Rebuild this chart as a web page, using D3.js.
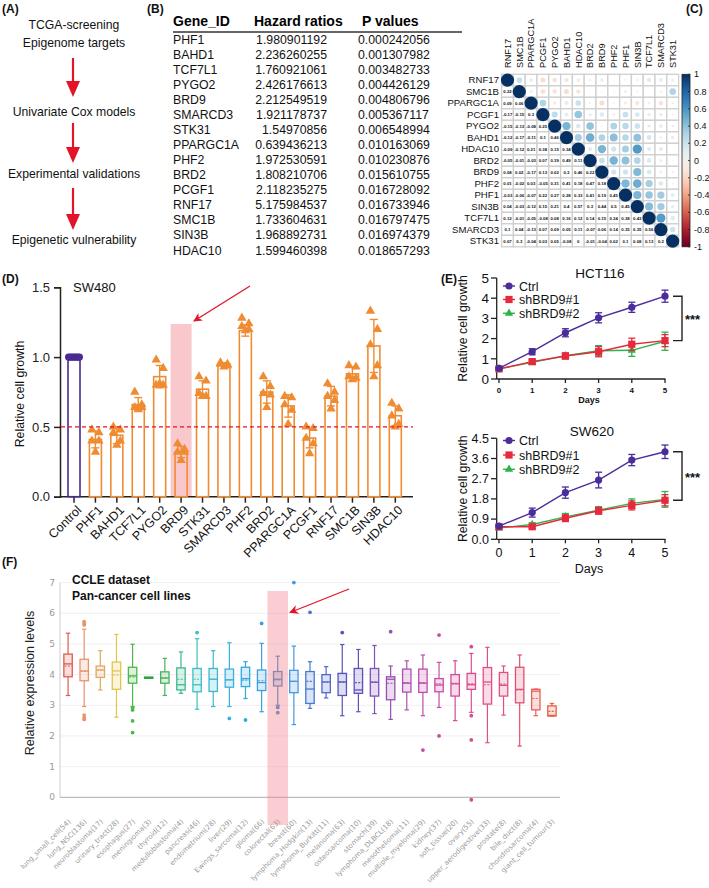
<!DOCTYPE html>
<html><head><meta charset="utf-8">
<script src="https://cdn.jsdelivr.net/npm/d3@7"></script>
<style>body{margin:0;background:#fff}svg{font-family:"Liberation Sans",Arial,sans-serif}</style>
</head><body>
<svg id="c" width="709" height="888"></svg>
<script>
// ================= DATA =================
// Panel A
const flowSteps = [["TCGA-screening","Epigenome targets"],["Univariate Cox models"],["Experimental validations"],["Epigenetic vulnerability"]];
// Panel B
const tableHeaders = ["Gene_ID","Hazard ratios","P values"];
const geneIds = ["PHF1","BAHD1","TCF7L1","PYGO2","BRD9","SMARCD3","STK31","PPARGC1A","PHF2","BRD2","PCGF1","RNF17","SMC1B","SIN3B","HDAC10"];
const hazardRatios = ["1.980901192","2.236260255","1.760921061","2.426176613","2.212549519","1.921178737","1.54970856","0.639436213","1.972530591","1.808210706","2.118235275","5.175984537","1.733604631","1.968892731","1.599460398"];
const pValues = ["0.000242056","0.001307982","0.003482733","0.004426129","0.004806796","0.005367117","0.006548994","0.010163069","0.010230876","0.015610755","0.016728092","0.016733946","0.016797475","0.016974379","0.018657293"];
// Panel C
const corrGenes = ["RNF17","SMC1B","PPARGC1A","PCGF1","PYGO2","BAHD1","HDAC10","BRD2","BRD9","PHF2","PHF1","SIN3B","TCF7L1","SMARCD3","STK31"];
const corrLower = [
 [],
 [0.22],
 [0.09,0.06],
 [-0.17,-0.15,0.3],
 [-0.15,-0.13,-0.08,0.25],
 [-0.12,-0.17,-0.11,0.1,0.46],
 [-0.09,-0.12,0.21,0.38,0.15,0.34],
 [-0.05,-0.01,-0.03,0.07,0.39,0.49,0.11],
 [0.08,0.02,-0.17,0.13,0.02,0.3,0.46,0.22],
 [0.01,-0.02,0.03,-0.05,0.31,0.41,0.18,0.47,0.18],
 [-0.03,-0.06,-0.07,0.22,0.27,0.28,0.33,0.41,0.19,0.45],
 [0.04,-0.03,-0.12,0.15,0.21,0.4,0.57,0.3,0.44,0.5,0.45],
 [0.12,-0.01,-0.05,-0.08,0.08,0.16,0.12,0.14,0.15,0.34,0.38,0.43],
 [0.1,0.04,-0.13,0.07,0.09,0.05,0.11,-0.07,0.06,0.14,0.35,0.35,0.56],
 [0.07,0.3,-0.04,0.03,0.05,-0.08,0,-0.01,-0.04,0.02,0.1,0.08,0.13,0.2]
];
const colorbarTicks = [1,0.8,0.6,0.4,0.2,0,-0.2,-0.4,-0.6,-0.8,-1];
// Panel D
const growthCategories = ["Control","PHF1","BAHD1","TCF7L1","PYGO2","BRD9","STK31","SMARCD3","PHF2","BRD2","PPARGC1A","PCGF1","RNF17","SMC1B","SIN3B","HDAC10"];
const growthMeans = [1.0,0.41,0.44,0.66,0.86,0.32,0.77,0.95,1.19,0.75,0.65,0.42,0.72,0.88,1.08,0.58];
const growthSD = [0.01,0.06,0.06,0.05,0.08,0.04,0.06,0.01,0.04,0.08,0.08,0.07,0.07,0.05,0.19,0.07];
const growthPoints = [
 [1,1,1,1,1,1,1],
 [0.48,0.46,0.40,0.40,0.32],
 [0.50,0.48,0.46,0.40,0.37],
 [0.75,0.66,0.64,0.64,0.63],
 [0.98,0.92,0.80,0.80,0.81],
 [0.38,0.34,0.32,0.32,0.26],
 [0.86,0.83,0.74,0.72,0.72],
 [0.96,0.95,0.95,0.94,0.93],
 [1.28,1.24,1.22,1.20,1.19],
 [0.86,0.79,0.74,0.73,0.64],
 [0.72,0.71,0.66,0.62,0.52],
 [0.50,0.49,0.42,0.38,0.31],
 [0.81,0.75,0.72,0.69,0.63],
 [0.94,0.93,0.86,0.85,0.84],
 [1.33,1.20,1.09,0.94,0.86],
 [0.67,0.63,0.58,0.52,0.50]
];
const growthYTicks = [0,0.5,1.0,1.5];
const growthThreshold = 0.5;
// Panel E
const days = [0,1,2,3,4,5];
const seriesNames = ["Ctrl","shBRD9#1","shBRD9#2"];
const hctValues = [[0.53,1.35,2.29,3.03,3.55,4.1],[0.5,0.86,1.14,1.35,1.72,1.9],[0.5,0.82,1.15,1.4,1.42,1.87]];
const hctErrors = [[0.05,0.15,0.2,0.25,0.25,0.3],[0.05,0.1,0.15,0.25,0.3,0.3],[0.05,0.1,0.1,0.25,0.3,0.45]];
const swValues = [[0.59,1.19,2.08,2.64,3.53,3.9],[0.56,0.56,0.94,1.27,1.51,1.74],[0.5,0.66,1.0,1.3,1.6,1.78]];
const swErrors = [[0.05,0.2,0.25,0.35,0.25,0.3],[0.05,0.08,0.15,0.15,0.2,0.25],[0.05,0.08,0.15,0.15,0.2,0.35]];
const hctYTicks = [0,1,2,3,4,5];
const swYTicks = [0,0.9,1.8,2.7,3.6,4.5];
// Panel F
const cancerTypes = ["lung_small_cell(54)","lung_NSC(136)","neuroblastoma(17)","urinary_tract(28)","esophagus(27)","meningioma(3)","thyroid(12)","medulloblastoma(4)","pancreas(46)","endometrium(28)","liver(29)","Ewings_sarcoma(12)","glioma(66)","colorectal(63)","breast(60)","lymphoma_Hodgkin(13)","lymphoma_Burkitt(11)","melanoma(63)","osteosarcoma(10)","stomach(39)","lymphoma_DLBCL(18)","mesothelioma(11)","multiple_myeloma(29)","kidney(37)","soft_tissue(20)","ovary(55)","upper_aerodigestive(33)","prostate(8)","bile_duct(8)","chondrosarcoma(4)","giant_cell_tumour(3)"];
const whiskerHigh = [5.35,5.48,4.78,5.31,4.99,3.9,4.53,4.74,5.17,4.78,5.04,4.42,5.02,4.6,4.93,4.42,4.26,4.98,4.82,4.95,4.28,4.45,4.64,4.4,4.45,4.69,4.89,4.28,4.64,3.53,3.06];
const q3 = [4.67,4.50,4.28,4.41,4.24,3.92,4.09,4.22,4.2,4.2,4.18,4.24,4.15,4.1,4.14,4.1,4.0,4.04,4.2,4.2,3.93,4.18,4.18,3.87,4.0,4.04,4.23,4.07,4.24,3.52,2.98];
const medians = [4.35,4.12,4.15,4.12,3.96,3.9,3.89,3.67,3.67,3.85,3.83,3.87,3.74,3.85,3.78,3.53,3.76,3.76,3.5,3.75,3.85,3.72,3.72,3.66,3.7,3.67,3.76,3.65,3.52,3.46,2.67];
const q1 = [3.93,3.80,3.91,3.52,3.72,3.88,3.72,3.5,3.44,3.45,3.59,3.61,3.48,3.63,3.41,3.06,3.41,3.32,3.39,3.3,3.18,3.43,3.42,3.44,3.3,3.52,3.04,3.3,3.08,2.85,2.65];
const whiskerLow = [3.32,2.96,3.5,2.61,2.96,3.88,3.32,3.39,2.87,2.96,2.96,3.22,2.79,3.0,2.37,2.9,3.24,2.66,2.79,2.73,2.54,2.85,2.66,2.93,2.5,2.77,1.78,2.68,1.67,2.66,2.65];
const means = [4.28,4.1,4.15,3.99,3.92,3.9,3.89,3.85,3.85,3.85,3.83,3.82,3.8,3.83,3.78,3.78,3.76,3.76,3.74,3.76,3.72,3.74,3.74,3.7,3.72,3.7,3.67,3.69,3.5,3.22,2.8];
const outliers = [[],[5.73,5.67,5.62,2.68,2.6,2.54],[],[],[2.92,2.85,2.49,2.11],[],[],[],[5.37],[],[2.57],[2.52],[5.67],[2.93,2.76],[7.0],[6.03],[],[5.37],[],[],[5.4],[],[1.54],[5.29,2.0],[],[4.91,2.66,1.87,-0.08],[],[],[],[],[]];
const boxColors = ["#e05a50","#e8946a","#e0a860","#e0c64c","#4cb848","#2fa243","#48b060","#3cb890","#3cc0c0","#3cb8cc","#38b0e0","#30a8e0","#3aa0e2","#4a88c8","#4898e0","#4878d0","#5068c8","#5454bc","#6250b8","#7e50b8","#9850b0","#b050b0","#c04ca8","#c84ca0","#d04c98","#d84c90","#e05088","#e05080","#e05070","#e86058","#e86048"];
const exprYTicks = [0,1,2,3,4,5,6,7];

// ================= DRAW =================
const svg = d3.select("#c");
const RED = "#e3142a";
svg.append("defs").html(`
 <marker id="ah" viewBox="0 0 10 10" refX="9" refY="5" markerWidth="9" markerHeight="9" markerUnits="userSpaceOnUse" orient="auto">
  <path d="M0,0 L10,5 L0,10 L3,5 Z" fill="${RED}"/></marker>`);

function plabel(t,x,y){svg.append("text").attr("x",x).attr("y",y).attr("font-weight","bold").attr("font-size",12).attr("fill","#111").text(t);}
plabel("(A)",2,13); plabel("(B)",147,13); plabel("(C)",686,13); plabel("(D)",2,283); plabel("(E)",441,283); plabel("(F)",2,566);

// ---- Panel A ----
(function(){
  const gA = svg.append("g");
  const baselines = [[29,47],[116],[178],[244]];
  flowSteps.forEach((lines,i)=>{
    lines.forEach((t,j)=>gA.append("text").attr("x",74).attr("y",baselines[i][j]).attr("text-anchor","middle").attr("font-size",12.2).attr("fill","#111").text(t));
  });
  const arrows = [[58,97],[123,163],[188,230]];
  arrows.forEach(([a,b])=>{
    gA.append("line").attr("x1",73).attr("x2",73).attr("y1",a).attr("y2",b-12).attr("stroke",RED).attr("stroke-width",2.2);
    gA.append("path").attr("d",`M${66},${b-16} L${80},${b-16} L73,${b} Z`).attr("fill",RED);
  });
})();

// ---- Panel B ----
(function(){
  const g = svg.append("g");
  g.append("text").attr("x",173).attr("y",26).attr("font-weight","bold").attr("font-size",14).text(tableHeaders[0]);
  g.append("text").attr("x",254).attr("y",26).attr("font-weight","bold").attr("font-size",14).text(tableHeaders[1]);
  g.append("text").attr("x",362).attr("y",26).attr("font-weight","bold").attr("font-size",14).text(tableHeaders[2]);
  g.append("line").attr("x1",173).attr("x2",462).attr("y1",32).attr("y2",32).attr("stroke","#666").attr("stroke-width",2);
  const row = d3.scaleLinear().domain([0,geneIds.length-1]).range([43.5,254.5]);
  geneIds.forEach((gname,i)=>{
    g.append("text").attr("x",173).attr("y",row(i)).attr("font-size",12.3).attr("fill","#111").text(gname);
    g.append("text").attr("x",327).attr("y",row(i)).attr("font-size",12.3).attr("text-anchor","end").attr("fill","#111").text(hazardRatios[i]);
    g.append("text").attr("x",358).attr("y",row(i)).attr("font-size",12.3).attr("fill","#111").text(pValues[i]);
  });
})();

// ---- Panel C ----
(function(){
  const g = svg.append("g");
  const x = d3.scaleBand().domain(corrGenes).range([501.6,678.6]);
  const y = d3.scaleBand().domain(corrGenes).range([74.3,246.8]);
  const cw = x.bandwidth(), ch = y.bandwidth();
  const col = v => d3.interpolateRdBu((v+1)/2);
  const val = (i,j) => i===j?1:(i>j?corrLower[i][j]:corrLower[j][i]);
  corrGenes.forEach((ri,i)=>corrGenes.forEach((cj,j)=>{
    g.append("rect").attr("x",x(cj)).attr("y",y(ri)).attr("width",cw).attr("height",ch).attr("fill","#fff").attr("stroke","#cfcfcf").attr("stroke-width",1.3);
  }));
  corrGenes.forEach((ri,i)=>corrGenes.forEach((cj,j)=>{
    const v = val(i,j);
    const cx = x(cj)+cw/2, cy = y(ri)+ch/2;
    if (j>=i){
      g.append("circle").attr("cx",cx).attr("cy",cy).attr("r",Math.sqrt(Math.abs(v))*cw*(i===j?0.56:0.52)).attr("fill",col(v));
    } else {
      g.append("text").attr("x",cx).attr("y",cy+1.5).attr("text-anchor","middle").attr("font-size",4.3).attr("font-weight","bold").attr("fill","#111").text(String(v));
    }
  }));
  corrGenes.forEach(gn=>{
    g.append("text").attr("x",499).attr("y",y(gn)+ch/2+3.3).attr("text-anchor","end").attr("font-size",9.6).attr("fill","#111").text(gn);
    g.append("text").attr("transform",`translate(${x(gn)+cw/2+3.3},68) rotate(-90)`).attr("font-size",9.2).attr("fill","#111").text(gn);
  });
  // colorbar
  const cy = d3.scaleLinear().domain([-1,1]).range([246.8,74.3]);
  const grad = svg.select("defs").append("linearGradient").attr("id","cbar").attr("x1",0).attr("x2",0).attr("y1",1).attr("y2",0);
  d3.range(0,1.0001,0.05).forEach(t=>grad.append("stop").attr("offset",t).attr("stop-color",d3.interpolateRdBu(t)));
  g.append("rect").attr("x",682).attr("y",cy(1)).attr("width",8).attr("height",cy(-1)-cy(1)).attr("fill","url(#cbar)").attr("stroke","#222").attr("stroke-width",0.8);
  colorbarTicks.forEach(t=>{
    g.append("line").attr("x1",688).attr("x2",690).attr("y1",cy(t)).attr("y2",cy(t)).attr("stroke","#222").attr("stroke-width",0.8);
    g.append("text").attr("x",694).attr("y",cy(t)+3).attr("font-size",9).attr("fill","#111").text(String(t));
  });
})();

// ---- Panel D ----
(function(){
  const g = svg.append("g");
  const x = d3.scalePoint().domain(growthCategories).range([74,395.3]);
  const y = d3.scaleLinear().domain([0,1.5]).range([496.7,287.3]);
  const ORANGE = "#ef8c32", PURPLE = "#4b2a92";
  g.append("rect").attr("x",x("BRD9")-10.5).attr("y",324).attr("width",21).attr("height",y(0)-324).attr("fill","#f8c8cd");
  const ya = d3.axisLeft(y).tickValues(growthYTicks).tickFormat(d3.format(".1f")).tickSize(6);
  g.append("g").attr("transform","translate(60,0)").call(ya).call(s=>{s.select(".domain").attr("stroke","#222").attr("stroke-width",1.5);s.selectAll(".tick line").attr("stroke","#222").attr("stroke-width",1.5);s.selectAll("text").attr("font-size",13).attr("font-family","Liberation Sans").attr("fill","#222").attr("dx",-1);});
  g.append("line").attr("x1",60).attr("x2",413).attr("y1",y(0)).attr("y2",y(0)).attr("stroke","#222").attr("stroke-width",1.5);
  growthCategories.forEach((c,i)=>{
    g.append("line").attr("x1",x(c)).attr("x2",x(c)).attr("y1",y(0)).attr("y2",y(0)+6).attr("stroke","#222").attr("stroke-width",1.5);
    g.append("text").attr("transform",`translate(${x(c)+5},${y(0)+11}) rotate(-45)`).attr("text-anchor","end").attr("font-size",12.5).attr("fill","#111").attr("dy","0.35em").text(c);
  });
  g.append("text").attr("transform","translate(24,394) rotate(-90)").attr("text-anchor","middle").attr("font-size",12.3).attr("fill","#111").text("Relative cell growth");
  g.append("text").attr("x",73).attr("y",291.5).attr("font-size",13).attr("fill","#111").text("SW480");
  growthCategories.forEach((c,i)=>{
    const clr = i===0?PURPLE:ORANGE;
    g.append("rect").attr("x",x(c)-6).attr("y",y(growthMeans[i])).attr("width",12).attr("height",y(0)-y(growthMeans[i])).attr("fill","none").attr("stroke",clr).attr("stroke-width",1.6);
  });
  const offs = [-3.5,3.5,-3.5,3.5,0,-5,5];
  const tri = d3.symbol().type(d3.symbolTriangle).size(38);
  growthCategories.forEach((c,i)=>{
    growthPoints[i].forEach((v,k)=>{
      if(i===0){
        g.append("circle").attr("cx",x(c)+ (k-3)*1.8).attr("cy",y(v)).attr("r",3.6).attr("fill",PURPLE);
      } else {
        g.append("path").attr("d",tri).attr("transform",`translate(${x(c)+offs[k]},${y(v)})`).attr("fill",ORANGE);
      }
    });
  });
  growthCategories.forEach((c,i)=>{
    const clr = i===0?PURPLE:ORANGE;
    const lo = y(growthMeans[i]-growthSD[i]), hi = y(growthMeans[i]+growthSD[i]);
    g.append("line").attr("x1",x(c)).attr("x2",x(c)).attr("y1",lo).attr("y2",hi).attr("stroke",clr).attr("stroke-width",1.4);
    [lo,hi].forEach(yy=>g.append("line").attr("x1",x(c)-4).attr("x2",x(c)+4).attr("y1",yy).attr("y2",yy).attr("stroke",clr).attr("stroke-width",1.4));
  });
  g.append("line").attr("x1",61).attr("x2",413).attr("y1",y(growthThreshold)).attr("y2",y(growthThreshold)).attr("stroke",RED).attr("stroke-width",1.3).attr("stroke-dasharray","4,3");
  g.append("line").attr("x1",250).attr("y1",286).attr("x2",194).attr("y2",321).attr("stroke",RED).attr("stroke-width",1.3).attr("marker-end","url(#ah)");
})();

// ---- Panel E ----
const E_COLORS = ["#4b2c9b","#e8283c","#2db34a"];
function growthCurve(cfg){
  const g = svg.append("g");
  const x = d3.scaleLinear().domain([0,5]).range([499,665]);
  const y = d3.scaleLinear().domain([0,cfg.ymax]).range(cfg.yr);
  g.append("line").attr("x1",496.7).attr("x2",496.7).attr("y1",y(cfg.ymax)).attr("y2",y(0)).attr("stroke","#222").attr("stroke-width",1.3);
  g.append("line").attr("x1",496.7).attr("x2",665.5).attr("y1",y(0)).attr("y2",y(0)).attr("stroke","#222").attr("stroke-width",1.3);
  cfg.yticks.forEach(t=>{
    g.append("line").attr("x1",491).attr("x2",496.7).attr("y1",y(t)).attr("y2",y(t)).attr("stroke","#222").attr("stroke-width",1.3);
    g.append("text").attr("x",489).attr("y",y(t)).attr("dy","0.35em").attr("text-anchor","end").attr("font-size",cfg.ytickSize).attr("fill","#111").text(cfg.yfmt(t));
  });
  days.forEach(d=>{
    g.append("line").attr("x1",x(d)).attr("x2",x(d)).attr("y1",y(0)).attr("y2",y(0)+4).attr("stroke","#222").attr("stroke-width",1.3);
    g.append("text").attr("x",x(d)).attr("y",cfg.xtickY).attr("text-anchor","middle").attr("font-size",cfg.xtickSize).attr("font-weight",cfg.xbold?"bold":"normal").attr("fill","#111").text(d);
  });
  g.append("text").attr("x",589).attr("y",cfg.daysY).attr("text-anchor","middle").attr("font-size",cfg.daysSize).attr("font-weight",cfg.xbold?"bold":"normal").attr("fill","#111").text("Days");
  g.append("text").attr("transform",`translate(467,${(y(0)+y(cfg.ymax))/2}) rotate(-90)`).attr("text-anchor","middle").attr("font-size",12.3).attr("fill","#111").text("Relative cell growth");
  g.append("text").attr("x",cfg.titleX).attr("y",cfg.titleY).attr("text-anchor","middle").attr("font-size",13.5).attr("fill","#111").text(cfg.title);
  const markers = [
    (sel,px,py,c)=>sel.append("circle").attr("cx",px).attr("cy",py).attr("r",3.6).attr("fill",c),
    (sel,px,py,c)=>sel.append("rect").attr("x",px-3.6).attr("y",py-3.6).attr("width",7.2).attr("height",7.2).attr("fill",c),
    (sel,px,py,c)=>sel.append("path").attr("d",d3.symbol().type(d3.symbolTriangle).size(30)).attr("transform",`translate(${px},${py})`).attr("fill",c)
  ];
  [2,1,0].forEach(s=>{
    const vals = cfg.values[s], errs = cfg.errors[s], c = E_COLORS[s];
    g.append("path").datum(days).attr("d",d3.line().x(d=>x(d)).y((d,i)=>y(vals[i]))).attr("fill","none").attr("stroke",c).attr("stroke-width",1.4);
    days.forEach((d,i)=>{
      const lo=y(vals[i]-errs[i]), hi=y(vals[i]+errs[i]);
      g.append("line").attr("x1",x(d)).attr("x2",x(d)).attr("y1",lo).attr("y2",hi).attr("stroke",c).attr("stroke-width",1.3);
      [lo,hi].forEach(yy=>g.append("line").attr("x1",x(d)-3.5).attr("x2",x(d)+3.5).attr("y1",yy).attr("y2",yy).attr("stroke",c).attr("stroke-width",1.3));
      markers[s](g,x(d),y(vals[i]),c);
    });
  });
  seriesNames.forEach((n,s)=>{
    const ly = cfg.legendY[s];
    g.append("line").attr("x1",503).attr("x2",515).attr("y1",ly).attr("y2",ly).attr("stroke",E_COLORS[s]).attr("stroke-width",1.4);
    markers[s](g,509,ly,E_COLORS[s]);
    g.append("text").attr("x",519).attr("y",ly).attr("dy","0.36em").attr("font-size",12.5).attr("fill","#111").text(n);
  });
  const y1 = y(cfg.values[0][5]), y2 = y(cfg.values[1][5]);
  g.append("path").attr("d",`M673,${y1} H682 V${y2} H673`).attr("fill","none").attr("stroke","#222").attr("stroke-width",1.4);
  g.append("text").attr("x",685).attr("y",(y1+y2)/2+6).attr("font-size",13).attr("font-weight","bold").attr("fill","#111").text("***");
}
growthCurve({title:"HCT116",titleX:600,titleY:277.5,ymax:5,yr:[379,278],yticks:hctYTicks,yfmt:d3.format("d"),ytickSize:13.5,
  xtickY:392.5,xtickSize:8,xbold:true,daysY:402.5,daysSize:9,values:hctValues,errors:hctErrors,legendY:[286,299.5,313.3]});
growthCurve({title:"SW620",titleX:592,titleY:436,ymax:4.5,yr:[539.3,438.3],yticks:swYTicks,yfmt:d3.format(".1f"),ytickSize:12.5,
  xtickY:556.5,xtickSize:12.5,xbold:false,daysY:572.5,daysSize:12.5,values:swValues,errors:swErrors,legendY:[440.5,455,469.3]});

// ---- Panel F ----
(function(){
  const g = svg.append("g");
  const x = d3.scaleBand().domain(cancerTypes).range([60,560]);
  const y = d3.scaleLinear().domain([0,7]).range([797.3,582.6]);
  const bw = x.bandwidth();
  exprYTicks.forEach(t=>{
    if(t>0) g.append("line").attr("x1",60).attr("x2",560).attr("y1",y(t)).attr("y2",y(t)).attr("stroke","#f0f0f0").attr("stroke-width",1);
    g.append("text").attr("x",55).attr("y",y(t)).attr("dy","0.35em").attr("text-anchor","end").attr("font-size",9).attr("font-family","DejaVu Sans").attr("fill","#999").text(t);
  });
  g.append("line").attr("x1",60).attr("x2",60).attr("y1",y(7)).attr("y2",y(0)).attr("stroke","#ccc").attr("stroke-width",1);
  g.append("line").attr("x1",60).attr("x2",560).attr("y1",y(0)).attr("y2",y(0)).attr("stroke","#bbb").attr("stroke-width",1.2);
  g.append("text").attr("transform","translate(34,683) rotate(-90)").attr("text-anchor","middle").attr("font-size",12.5).attr("fill","#222").text("Relative expression levels");
  g.append("text").attr("x",72).attr("y",584).attr("font-size",12).attr("font-weight","bold").attr("fill","#111").text("CCLE dataset");
  g.append("text").attr("x",72).attr("y",600).attr("font-size",12).attr("font-weight","bold").attr("fill","#111").text("Pan-cancer cell lines");
  cancerTypes.forEach((c,i)=>{
    const cx = x(c)+bw/2, col = boxColors[i];
    const bg = g.append("g");
    bg.append("line").attr("x1",cx).attr("x2",cx).attr("y1",y(whiskerHigh[i])).attr("y2",y(q3[i])).attr("stroke",col).attr("stroke-width",1.2);
    bg.append("line").attr("x1",cx).attr("x2",cx).attr("y1",y(q1[i])).attr("y2",y(whiskerLow[i])).attr("stroke",col).attr("stroke-width",1.2);
    [whiskerHigh[i],whiskerLow[i]].forEach(v=>bg.append("line").attr("x1",cx-2.2).attr("x2",cx+2.2).attr("y1",y(v)).attr("y2",y(v)).attr("stroke",col).attr("stroke-width",1.2));
    bg.append("rect").attr("x",cx-4.2).attr("y",y(q3[i])).attr("width",8.4).attr("height",Math.max(0.5,y(q1[i])-y(q3[i]))).attr("fill",col).attr("fill-opacity",0.2).attr("stroke",col).attr("stroke-width",1.3);
    bg.append("line").attr("x1",cx-4.2).attr("x2",cx+4.2).attr("y1",y(medians[i])).attr("y2",y(medians[i])).attr("stroke",col).attr("stroke-width",1.3);
    bg.append("line").attr("x1",cx-3.5).attr("x2",cx+3.5).attr("y1",y(means[i])).attr("y2",y(means[i])).attr("stroke",col).attr("stroke-width",1.1).attr("stroke-dasharray","2,1.3");
    outliers[i].forEach(v=>bg.append("circle").attr("cx",cx).attr("cy",y(v)).attr("r",1.9).attr("fill",col));
    g.append("text").attr("transform",`translate(${cx+3},${822}) rotate(-45)`).attr("text-anchor","end").attr("font-size",7).attr("font-family","DejaVu Sans").attr("fill","#999").text(c);
  });
  const hc = x("colorectal(63)")+bw/2;
  g.append("rect").attr("x",hc-10.3).attr("y",591).attr("width",20.6).attr("height",234).attr("fill","rgb(240,130,140)").attr("opacity",0.4);
  g.append("line").attr("x1",349).attr("y1",589).attr("x2",290).attr("y2",612.5).attr("stroke",RED).attr("stroke-width",1.3).attr("marker-end","url(#ah)");
})();
</script>
</body></html>
